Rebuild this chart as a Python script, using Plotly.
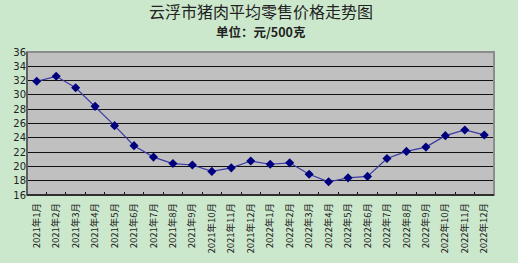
import plotly.graph_objects as go

months = [f"2021年{m}月" for m in range(1, 13)] + [f"2022年{m}月" for m in range(1, 13)]
prices = [31.9, 32.6, 31.0, 28.4, 25.7, 22.9, 21.3, 20.4, 20.2, 19.3, 19.8, 20.75,
          20.3, 20.5, 18.9, 17.85, 18.4, 18.6, 21.1, 22.1, 22.7, 24.3, 25.1, 24.4]
y_ticks = list(range(16, 37, 2))

fig = go.Figure()
fig.add_trace(go.Scatter(
    x=months, y=prices, mode="lines+markers",
    line=dict(color="#3A3AA5", width=1.2),
    marker=dict(symbol="diamond", size=7, color="#00007F"),
    showlegend=False,
))

font = "Noto Sans CJK SC, sans-serif"
fig.update_layout(
    width=518, height=263,
    margin=dict(l=27, r=24, t=52, b=68, pad=0),
    paper_bgcolor="#CCE8CC",
    plot_bgcolor="#C0C0C0",
    font=dict(family=font, color="#222222"),
    annotations=[
        dict(text="云浮市猪肉平均零售价格走势图", xref="paper", yref="paper",
             x=0.5, y=1, yshift=41, xanchor="center", yanchor="middle", showarrow=False,
             font=dict(size=16, color="#222222", family=font)),
        dict(text="<b>单位：元/500克</b>", xref="paper", yref="paper",
             x=0.5, y=1, yshift=21, xanchor="center", yanchor="middle", showarrow=False,
             font=dict(size=12.5, color="#222222", family=font)),
    ],
    shapes=[
        dict(type="rect", xref="paper", yref="paper", x0=0, x1=1, y0=0, y1=1,
             line=dict(color="#8C8C8C", width=2), layer="above"),
        dict(type="line", xref="paper", yref="paper", x0=0, x1=1, y0=0, y1=0,
             line=dict(color="#111111", width=1.5), layer="above"),
        dict(type="line", xref="paper", yref="paper", x0=0, x1=0, y0=0, y1=1,
             line=dict(color="#333333", width=1), layer="above"),
    ],
)
fig.update_xaxes(
    type="category", tickangle=-90, tickson="boundaries",
    range=[-0.5, len(months) - 0.5], autorange=False,
    ticks="inside", ticklen=3, tickcolor="#111111",
    ticklabelstandoff=5,
    showgrid=False, zeroline=False, automargin=False,
    tickfont=dict(size=9.5, color="#222222", family=font),
)
fig.update_yaxes(
    range=[16, 36], autorange=False, tickvals=y_ticks, ticktext=[str(v) for v in y_ticks],
    showgrid=True, gridcolor="#111111", gridwidth=1,
    zeroline=False, ticks="", automargin=False,
    tickfont=dict(size=10, color="#222222", family="DejaVu Sans, sans-serif"),
)

fig.write_html("out.html")
